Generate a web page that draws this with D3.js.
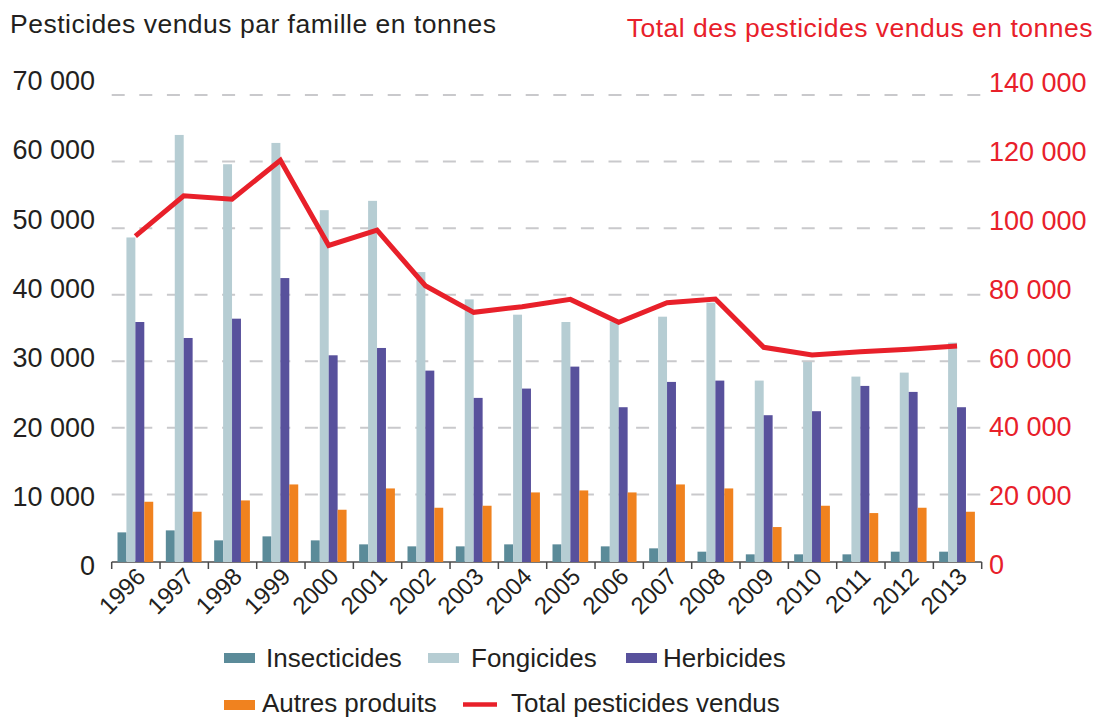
<!DOCTYPE html>
<html>
<head>
<meta charset="utf-8">
<script src="https://cdn.jsdelivr.net/npm/d3@7"></script>
<style>
  body { margin: 0; background: #fff; }
  svg { display: block; font-family: "Liberation Sans", Arial, Helvetica, sans-serif; }
</style>
</head>
<body>
<div id="chart"></div>
<script>
// data (tonnes)
const years = ["1996", "1997", "1998", "1999", "2000", "2001", "2002", "2003", "2004",
               "2005", "2006", "2007", "2008", "2009", "2010", "2011", "2012", "2013"];
const insecticides = [4300, 4600, 3100, 3700, 3100, 2500, 2200, 2200, 2500,
                      2500, 2200, 1900, 1400, 1000, 1000, 1000, 1400, 1400];
const fongicides = [48600, 64000, 59600, 62800, 52700, 54100, 43400, 39300, 37000,
                    35900, 36000, 36700, 38800, 27100, 29900, 27700, 28300, 32800];
const herbicides = [35900, 33500, 36400, 42500, 30900, 32000, 28600, 24500, 25900,
                    29200, 23100, 26900, 27100, 21900, 22500, 26300, 25400, 23100];
const autres = [8900, 7400, 9100, 11500, 7700, 10900, 8000, 8300, 10300,
                10600, 10300, 11500, 10900, 5100, 8300, 7200, 8000, 7400];
const total = [97600, 109700, 108700, 120400, 94800, 99400, 82700, 74700, 76400,
               78600, 71700, 77600, 78700, 64200, 61900, 62900, 63600, 64600];

const leftTicks = [0, 10000, 20000, 30000, 40000, 50000, 60000, 70000];
const rightTicks = [0, 20000, 40000, 60000, 80000, 100000, 120000, 140000];

const seriesNames = ["Insecticides", "Fongicides", "Herbicides", "Autres produits"];
const seriesKeys = ["ins", "fon", "her", "aut"];
const COLORS = {ins: "#5b8b99", fon: "#b6cdd3", her: "#58519c", aut: "#f0821f", total: "#e8202a"};

// frame
const WIDTH = 1097, HEIGHT = 718;
const PLOT = {left: 111.7, right: 981.7, top: 95, bottom: 561};
const TEXT = "#231f20";

const svg = d3.select("#chart").append("svg")
  .attr("width", WIDTH).attr("height", HEIGHT);

const rows = years.map((y, i) => ({
  year: y, ins: insecticides[i], fon: fongicides[i], her: herbicides[i], aut: autres[i], total: total[i]
}));

const X0 = d3.scaleBand().domain(years).range([PLOT.left, PLOT.right]).padding(0);
const X1 = d3.scaleBand().domain(seriesKeys).range([5.8, X0.bandwidth() - 6.8]).padding(0);
const Y = d3.scaleLinear().domain([0, 70000]).range([PLOT.bottom, PLOT.top]);
const Y2 = d3.scaleLinear().domain([0, 140000]).range([PLOT.bottom, PLOT.top]);
// tick labels in the source sit on a slightly stretched scale
const Y_LAB = d3.scaleLinear().domain([0, 70000]).range([566, 81]);
const Y2_LAB = d3.scaleLinear().domain([0, 140000]).range([565, 83]);

const fr = d3.formatLocale({decimal: ",", thousands: " ", grouping: [3], currency: ["", " €"]});
const fmt = fr.format(",d");

// titles
svg.append("text")
  .attr("x", 10).attr("y", 33)
  .attr("font-size", "26.5px").attr("letter-spacing", "0.5px")
  .attr("fill", TEXT)
  .text("Pesticides vendus par famille en tonnes");
svg.append("text")
  .attr("x", 1093).attr("y", 37)
  .attr("text-anchor", "end")
  .attr("font-size", "26.5px").attr("letter-spacing", "0.5px")
  .attr("fill", COLORS.total)
  .text("Total des pesticides vendus en tonnes");

// dashed gridlines
svg.append("g")
  .selectAll("line")
  .data(leftTicks.filter(d => d > 0))
  .join("line")
    .attr("x1", PLOT.left).attr("x2", 981)
    .attr("y1", d => Y(d)).attr("y2", d => Y(d))
    .attr("stroke", "#c9c9cc")
    .attr("stroke-width", 2)
    .attr("stroke-dasharray", "13,14.6");

// left labels
const leftAxis = svg.append("g")
  .attr("transform", "translate(95,0)")
  .call(d3.axisLeft(Y_LAB).tickValues(leftTicks).tickSize(0).tickPadding(0).tickFormat(fmt));
leftAxis.select(".domain").remove();
leftAxis.selectAll("text")
  .attr("font-size", "27px").attr("fill", TEXT).attr("font-family", null);

// right labels
const rightAxis = svg.append("g")
  .attr("transform", "translate(989,0)")
  .call(d3.axisRight(Y2_LAB).tickValues(rightTicks).tickSize(0).tickPadding(0).tickFormat(fmt));
rightAxis.select(".domain").remove();
rightAxis.selectAll("text")
  .attr("font-size", "27px").attr("fill", COLORS.total).attr("font-family", null);

// x axis baseline with ticks on band edges
const xAxis = svg.append("g");
xAxis.append("line")
  .attr("x1", PLOT.left).attr("x2", PLOT.right)
  .attr("y1", PLOT.bottom + 1).attr("y2", PLOT.bottom + 1)
  .attr("stroke", "#4a4a4a").attr("stroke-width", 1.5);
xAxis.selectAll(".tk")
  .data(years.concat(["end"]))
  .join("line")
    .attr("class", "tk")
    .attr("x1", d => d === "end" ? PLOT.right : X0(d))
    .attr("x2", d => d === "end" ? PLOT.right : X0(d))
    .attr("y1", PLOT.bottom + 1).attr("y2", PLOT.bottom + 8)
    .attr("stroke", "#4a4a4a").attr("stroke-width", 1.5);

xAxis.selectAll(".yl")
  .data(years)
  .join("text")
    .attr("class", "yl")
    .attr("text-anchor", "end")
    .attr("font-size", "24px")
    .attr("fill", TEXT)
    .attr("transform", d => "translate(" + (X0(d) + X0.bandwidth() / 2 + 11) + "," + (PLOT.bottom + 17) + ") rotate(-45)")
    .text(d => d);

// bars
const groups = svg.append("g")
  .selectAll("g")
  .data(rows)
  .join("g")
    .attr("transform", d => "translate(" + X0(d.year) + ",0)");

groups.selectAll("rect")
  .data(d => seriesKeys.map(k => ({key: k, value: d[k]})))
  .join("rect")
    .attr("x", d => X1(d.key))
    .attr("y", d => Y(d.value))
    .attr("width", X1.bandwidth())
    .attr("height", d => Y(0) + 1 - Y(d.value))
    .attr("fill", d => COLORS[d.key]);

// total line
const line = d3.line()
  .x(d => X0(d.year) + X1("her"))
  .y(d => Y2(d.total));

svg.append("path")
  .datum(rows)
  .attr("d", line)
  .attr("fill", "none")
  .attr("stroke", COLORS.total)
  .attr("stroke-width", 5)
  .attr("stroke-linejoin", "miter");

// legend
const legendPos = [
  {sx: 224, sy: 653, tx: 266, ty: 667},
  {sx: 428, sy: 653, tx: 471, ty: 667},
  {sx: 626, sy: 653, tx: 663, ty: 667},
  {sx: 224, sy: 700, tx: 262, ty: 712}
];
const legend = svg.append("g");
seriesKeys.forEach((k, i) => {
  const p = legendPos[i];
  legend.append("rect")
    .attr("x", p.sx).attr("y", p.sy)
    .attr("width", 31).attr("height", 10)
    .attr("fill", COLORS[k]);
  legend.append("text")
    .attr("x", p.tx).attr("y", p.ty)
    .attr("font-size", "26px").attr("fill", TEXT)
    .text(seriesNames[i]);
});
legend.append("line")
  .attr("x1", 463).attr("x2", 497)
  .attr("y1", 704.5).attr("y2", 704.5)
  .attr("stroke", COLORS.total).attr("stroke-width", 4.5);
legend.append("text")
  .attr("x", 511).attr("y", 712)
  .attr("font-size", "26px").attr("fill", TEXT)
  .text("Total pesticides vendus");
</script>
</body>
</html>
